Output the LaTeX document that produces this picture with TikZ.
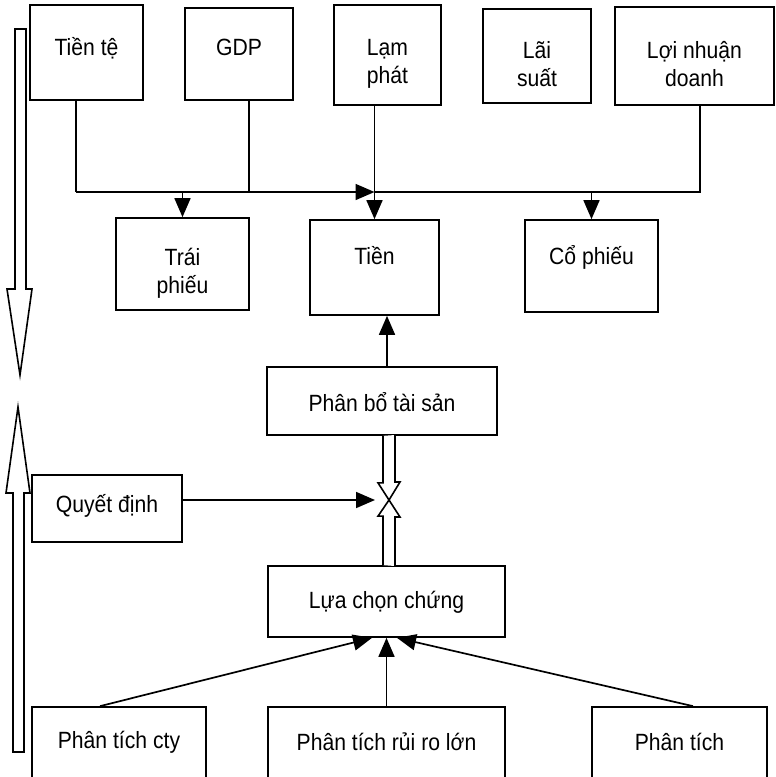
\documentclass[tikz,border=0pt]{standalone}
\usepackage{fontspec}
\setmainfont{Liberation Sans}[FakeStretch=0.9]
\usetikzlibrary{arrows.meta,calc}
% two centred lines whose baseline is that of the first line
\newcommand\twol[2]{\begin{tabular}[t]{@{}c@{}}#1\\#2\end{tabular}}
\begin{document}
\begin{tikzpicture}[x=1pt,y=-1pt,
  box/.style={draw, line width=1.7pt, inner sep=4pt,
    font=\fontsize{23.5}{28}\selectfont},
  tpos/.style 2 args={text height=#1pt, text depth=#2pt},
  ln/.style={draw, line width=1.7pt},
  arr/.style={ln, -{Triangle[length=19pt,width=16pt]}},
  hollow/.style={draw, line width=1.6pt, fill=white, line join=miter}]
\useasboundingbox (0,0) rectangle (776,777);
\clip (0,0) rectangle (776,777);

% top row: economic factors
\node[box, minimum width=113pt, minimum height=95pt, tpos={22.5}{17.5}] (tiente) at (86.5,52.5) {Tiền tệ};
\node[box, minimum width=108pt, minimum height=92pt, tpos={21}{19}] (gdp) at (239,54) {GDP};
\node[box, minimum width=107pt, minimum height=100pt, tpos={20}{20}] (lamphat) at (387.5,55) {\twol{Lạm}{phát}};
\node[box, minimum width=108pt, minimum height=94pt, tpos={22}{18}] (laisuat) at (537,56) {\twol{Lãi}{suất}};
\node[box, minimum width=159pt, minimum height=98pt, tpos={22}{18}] (loinhuan) at (694.5,56) {\twol{Lợi nhuận}{doanh}};

% asset classes
\node[box, minimum width=133pt, minimum height=92pt, tpos={21}{19}] (traiphieu) at (182.5,264) {\twol{Trái}{phiếu}};
\node[box, minimum width=129pt, minimum height=95pt, tpos={16.5}{23.5}] (tien) at (374.5,267.5) {Tiền};
\node[box, minimum width=133pt, minimum height=92pt, tpos={18}{22}] (cophieu) at (591.5,266) {Cổ phiếu};

% decision chain
\node[box, minimum width=230pt, minimum height=68pt, tpos={30}{10}] (phanbo) at (382,401) {Phân bổ tài sản};
\node[box, minimum width=150pt, minimum height=67pt, tpos={23.5}{16.5}] (quyetdinh) at (107,508.5) {Quyết định};
\node[box, minimum width=237pt, minimum height=71pt, tpos={26.5}{13.5}] (luachon) at (386.5,601.5) {Lựa chọn chứng};

% bottom row: analyses
\node[box, minimum width=174pt, minimum height=90pt, tpos={16}{24}] (ptcty) at (119,752) {Phân tích cty};
\node[box, minimum width=237pt, minimum height=90pt, tpos={18}{22}] (ptrr) at (386.5,752) {Phân tích rủi ro lớn};
\node[box, minimum width=175pt, minimum height=90pt, tpos={18}{22}] (phantich) at (679.5,752) {Phân tích};

% collecting bus under the top row
\coordinate (busL) at (76,192);
\coordinate (busR) at (700,192);
\coordinate (busM) at (tien.north |- busL);
\coordinate (cross) at (389,500);

\draw[ln] ([xshift=-10.5pt]tiente.south) -- (busL);
\draw[arr] (busL) -- (busM);
\draw[ln] (busM) -- (busR) -- ([xshift=5.5pt]loinhuan.south);
\draw[ln] ([xshift=10pt]gdp.south) -- ([xshift=10pt]gdp.south |- busL);
\draw[arr] (tien.north |- lamphat.south) -- (tien.north);
\draw[arr] (traiphieu.north |- busL) -- (traiphieu.north);
\draw[arr] (cophieu.north |- busL) -- (cophieu.north);

% allocation feeds cash
\draw[arr] ([xshift=5pt]phanbo.north) -- ([xshift=5pt]phanbo.north |- tien.south);

% meeting hollow arrows and the decision input
\draw[hollow] ($(phanbo.south -| cross)+(-6,0)$) -- ++(0,47) -- ++(-5,0) -- (cross)
  -- ++(11,-18) -- ++(-5,0) -- ++(0,-47);
\draw[hollow] ($(luachon.north -| cross)+(-6,0)$) -- ++(0,-49) -- ++(-5,0) -- (cross)
  -- ++(11,17) -- ++(-5,0) -- ++(0,49);
\draw[arr, shorten >=14pt] (quyetdinh.east |- cross) -- (cross);

% analyses feed the selection
\draw[arr] ([xshift=-19pt]ptcty.north) -- ([xshift=-14.5pt]luachon.south);
\draw[arr] (ptrr.north) -- (luachon.south);
\draw[arr] ([xshift=13.5pt]phantich.north) -- ([xshift=10.5pt]luachon.south);

% top-down and bottom-up direction arrows
\draw[hollow] (15,29) -- (15,289) -- (7,289) -- (20,375) -- (32,289) -- (26,289) -- (26,29) -- cycle;
\draw[hollow] (13,752) -- (13,493) -- (6,493) -- (18,407) -- (30,493) -- (24,493) -- (24,752) -- cycle;
\end{tikzpicture}
\end{document}
